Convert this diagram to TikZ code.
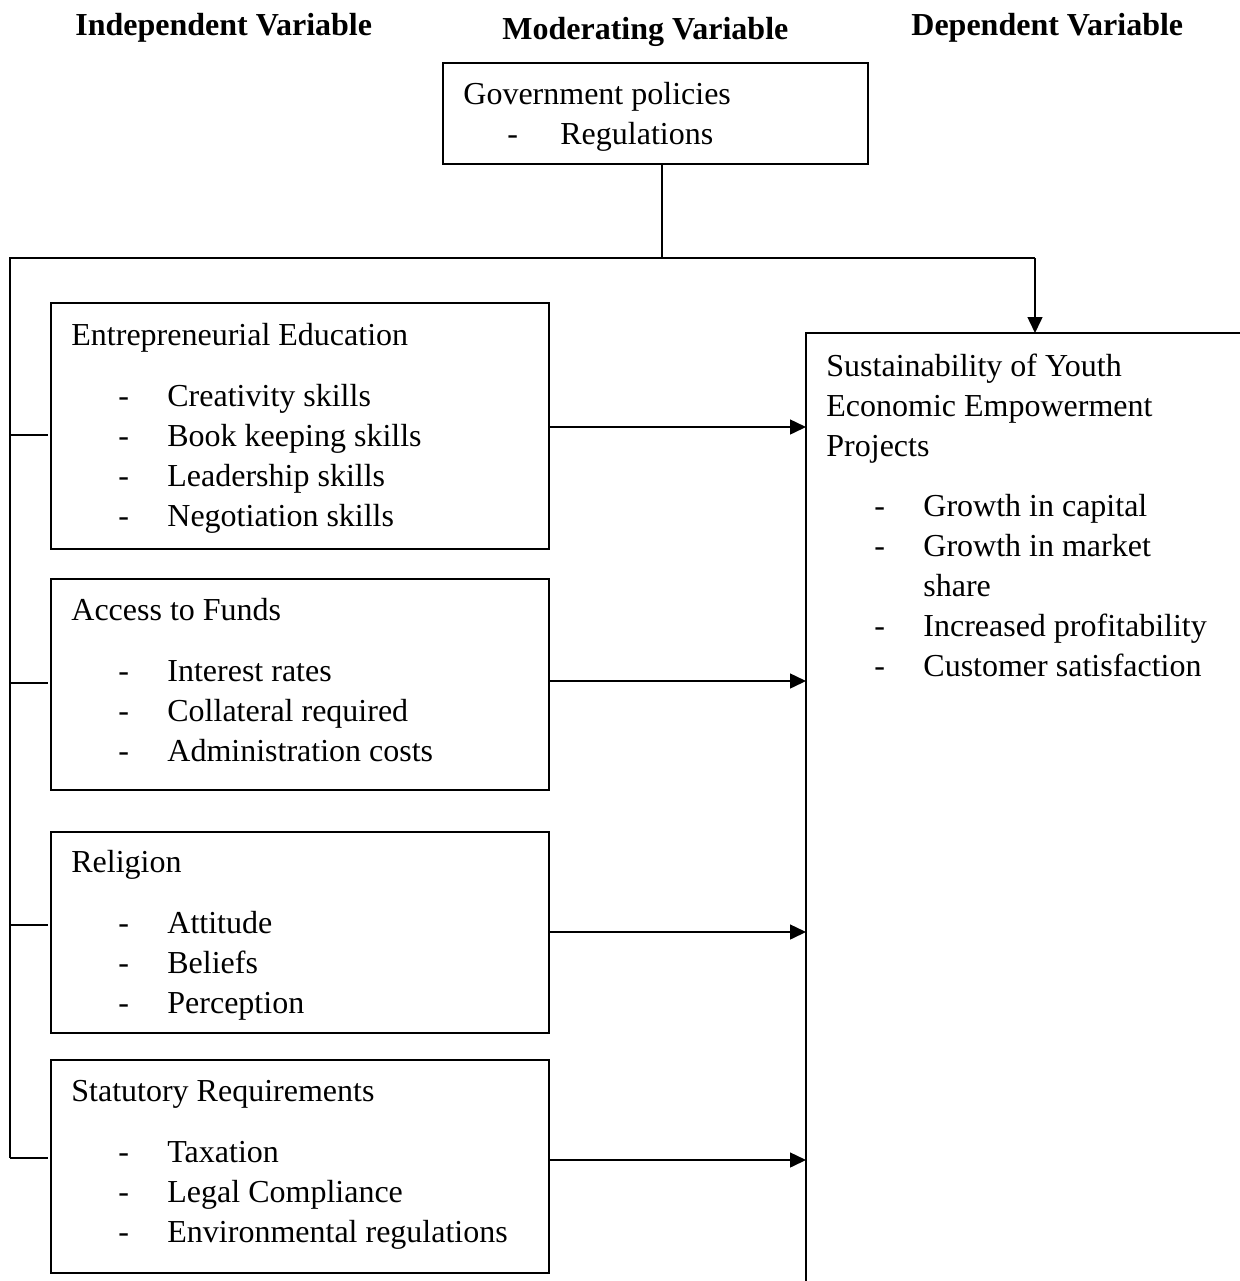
\documentclass[tikz,border=0pt]{standalone}
\usepackage{fontspec}
\setmainfont{Liberation Serif}
\usetikzlibrary{arrows.meta,positioning}
\tikzset{
  frame/.style={draw,line width=0.75pt,rectangle,inner sep=0pt,outer sep=0pt},
  txt/.style={anchor=base west,inner sep=0pt,font=\fontsize{16}{20}\selectfont},
  headtxt/.style={txt,font=\fontsize{16}{20}\selectfont\bfseries},
  link/.style={line width=0.75pt},
  arr/.style={line width=0.75pt,-{Triangle[length=8pt,width=7.5pt]}}
}

\begin{document}
\begin{tikzpicture}[x=0.5pt,y=-0.5pt]
\useasboundingbox (0,0) rectangle (1240,1281);
\clip (0,0) rectangle (1240,1281);
% column headings
\node[headtxt] (hInd) at (75,35) {Independent Variable};
\node[headtxt] (hMod) at (502,39) {Moderating Variable};
\node[headtxt] (hDep) at (911,35) {Dependent Variable};
% moderating variable
\node[frame,minimum width=212.5pt,minimum height=50.5pt] (gov) at (655.5,113.5) {};
\node[txt] (govT) at (463,104) {Government policies};
\node[txt] (govD) at (507,144) {-};\node[txt] (govI) at (560,144) {Regulations};
% independent variables
\node[frame,minimum width=249pt,minimum height=123pt] (edu) at (300,426) {};
\node[frame,minimum width=249pt,minimum height=105.5pt] (fund) at (300,684.5) {};
\node[frame,minimum width=249pt,minimum height=100.5pt] (rel) at (300,932.5) {};
\node[frame,minimum width=249pt,minimum height=106.5pt] (stat) at (300,1166.5) {};
\node[txt] (eduT) at (71,345) {Entrepreneurial Education};
\foreach \t [count=\i] in {Creativity skills,Book keeping skills,Leadership skills,Negotiation skills}{
  \node[txt] (eduD\i) at (118,366+40*\i) {-};\node[txt] (edu\i) at (167,366+40*\i) {\t};}
\node[txt] (fundT) at (71,620) {Access to Funds};
\foreach \t [count=\i] in {Interest rates,Collateral required,Administration costs}{
  \node[txt] (fundD\i) at (118,641+40*\i) {-};\node[txt] (fund\i) at (167,641+40*\i) {\t};}
\node[txt] (relT) at (71,872) {Religion};
\foreach \t [count=\i] in {Attitude,Beliefs,Perception}{
  \node[txt] (relD\i) at (118,893+40*\i) {-};\node[txt] (rel\i) at (167,893+40*\i) {\t};}
\node[txt] (statT) at (71,1101) {Statutory Requirements};
\foreach \t [count=\i] in {Taxation,Legal Compliance,Environmental regulations}{
  \node[txt] (statD\i) at (118,1122+40*\i) {-};\node[txt] (stat\i) at (167,1122+40*\i) {\t};}
% dependent variable (runs off the page)
\node[frame,anchor=north west,minimum width=300pt,minimum height=600pt] (dep) at (806,333) {};
\node[txt] (depT1) at (826,376) {Sustainability of Youth};
\node[txt] (depT2) at (826,416) {Economic Empowerment};
\node[txt] (depT3) at (826,456) {Projects};
\node[txt] (depD1) at (874,516) {-};\node[txt] (dep1) at (923,516) {Growth in capital};
\node[txt] (depD2) at (874,556) {-};\node[txt] (dep2) at (923,556) {Growth in market};
\node[txt] (dep2b) at (923,596) {share};
\node[txt] (depD3) at (874,636) {-};\node[txt] (dep3) at (923,636) {Increased profitability};
\node[txt] (depD4) at (874,676) {-};\node[txt] (dep4) at (923,676) {Customer satisfaction};
% connectors
\coordinate (jn) at (662,258);
\coordinate (busL) at (10,258);
\coordinate (busR) at (1035,258);
\coordinate (busB) at (10,1158);
\draw[link] (gov.south -| jn) -- (jn);
\draw[link] (busR) -- (busL) -- (busB);
\draw[arr] (busR) -- (dep.north -| busR);
\foreach \b/\y in {edu/435,fund/683,rel/925,stat/1158}
  \draw[link] (busL |- 0,\y) -- ([xshift=-1.5pt]\b.west |- 0,\y);
\foreach \b/\y in {edu/427,fund/681,rel/932,stat/1160}
  \draw[arr] (\b.east |- 0,\y) -- (dep.west |- 0,\y);
\end{tikzpicture}
\end{document}
